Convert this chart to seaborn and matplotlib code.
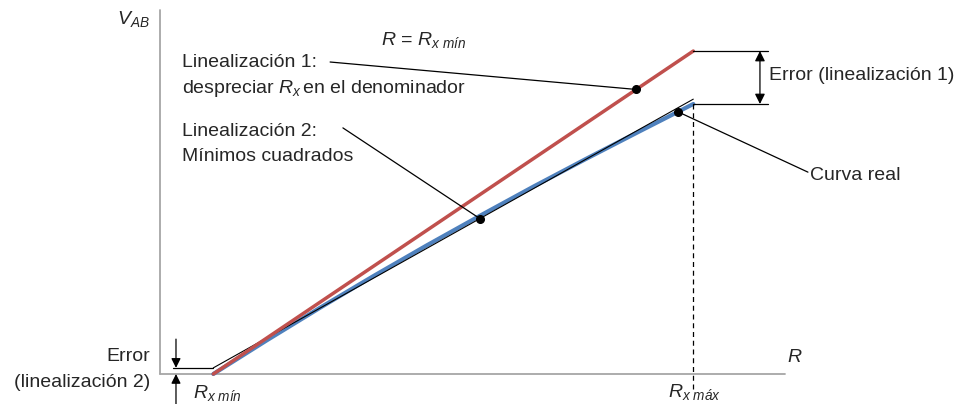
import matplotlib
matplotlib.use("Agg")
import matplotlib.pyplot as plt
import seaborn as sns
import pandas as pd

# axis extents (R in units where Rx_min=1, Rx_max=10; V where linearization 1 reaches 1 at Rx_max)
R_MIN = 1.0
R_MAX = 10.0
R_AXIS_END = 11.72
V_AXIS_TOP = 1.127

# series
r_curve = [1, 2, 3, 4, 5, 6, 7, 8, 9, 10]
v_curve = [0.0, 0.104, 0.205, 0.303, 0.398, 0.490, 0.580, 0.667, 0.752, 0.836]
r_lin1 = [R_MIN, R_MAX]
v_lin1 = [0.0, 1.0]
r_lin2 = [R_MIN, R_MAX]
v_lin2 = [0.019, 0.851]

# marked points
dot_lin1 = (8.93, 0.881)
dot_lin2 = (6.0, 0.481)
dot_curve = (9.71, 0.812)

sns.set_theme(style="white")
plt.rcParams["font.family"] = ["Liberation Sans", "DejaVu Sans"]
plt.rcParams["mathtext.fontset"] = "custom"
plt.rcParams["mathtext.rm"] = "Liberation Sans"
plt.rcParams["mathtext.it"] = "Liberation Sans:italic"
FS = 14

fig = plt.figure(figsize=(9.61, 4.04), dpi=100)
ax = fig.add_axes([0, 0, 1, 1])
ax.set_xlim(-3.0, 15.02)
ax.set_ylim(-0.0929, 1.158)
ax.axis("off")

gray = "#a6a6a6"
red = "#c0504d"
blue = "#4f81bd"

# axes
ax.plot([0, R_AXIS_END], [0, 0], color=gray, lw=1.3)
ax.plot([0, 0], [0, V_AXIS_TOP], color=gray, lw=1.3)

df_curve = pd.DataFrame({"R": r_curve, "V": v_curve})
sns.lineplot(data=df_curve, x="R", y="V", ax=ax, color=blue, lw=3.0, sort=True)
sns.lineplot(x=r_lin2, y=v_lin2, ax=ax, color="black", lw=0.8)
sns.lineplot(x=r_lin1, y=v_lin1, ax=ax, color=red, lw=2.5)

# dashed Rx_max marker
ax.plot([R_MAX, R_MAX], [v_curve[-1], -0.05], color="black", lw=0.9, ls=(0, (4, 3)))

# error 1 guides
ax.plot([R_MAX, 11.40], [v_lin1[-1], v_lin1[-1]], color="black", lw=0.9)
ax.plot([R_MAX, 11.40], [v_curve[-1], v_curve[-1]], color="black", lw=0.9)
ax.annotate("", xy=(11.25, v_lin1[-1]), xytext=(11.25, v_curve[-1]),
            arrowprops=dict(arrowstyle="<|-|>", color="black", lw=0.9,
                            mutation_scale=15, shrinkA=0, shrinkB=0))

# error 2 guides
ax.plot([0.24, R_MIN], [v_lin2[0], v_lin2[0]], color="black", lw=0.9)
ax.annotate("", xy=(0.30, v_lin2[0]), xytext=(0.30, 0.108),
            arrowprops=dict(arrowstyle="-|>", color="black", lw=0.9,
                            mutation_scale=14, shrinkA=0, shrinkB=0))
ax.annotate("", xy=(0.30, 0.0), xytext=(0.30, -0.093),
            arrowprops=dict(arrowstyle="-|>", color="black", lw=0.9,
                            mutation_scale=14, shrinkA=0, shrinkB=0))

# leaders and dots
ax.plot([3.19, dot_lin1[0]], [0.966, dot_lin1[1]], color="black", lw=0.9)
ax.plot([3.43, dot_lin2[0]], [0.762, dot_lin2[1]], color="black", lw=0.9)
ax.plot([dot_curve[0], 12.15], [dot_curve[1], 0.625], color="black", lw=0.9)
for d in (dot_lin1, dot_lin2, dot_curve):
    ax.plot(d[0], d[1], "o", color="black", ms=5.5, zorder=5)

# texts
ax.text(-0.81, 1.099, r"$V_{AB}$", fontsize=FS, va="center", ha="left")
ax.text(4.14, 1.034, r"$R$ = $R_{x\ \mathit{mín}}$", fontsize=FS, va="center", ha="left")
ax.text(0.41, 0.963, "Linealización 1:", fontsize=FS, va="center", ha="left")
ax.text(0.41, 0.885, r"despreciar $R_x\,$en el denominador", fontsize=FS, va="center", ha="left")
ax.text(0.41, 0.752, "Linealización 2:", fontsize=FS, va="center", ha="left")
ax.text(0.41, 0.672, "Mínimos cuadrados", fontsize=FS, va="center", ha="left")
ax.text(11.42, 0.923, "Error (linealización 1)", fontsize=FS, va="center", ha="left")
ax.text(12.19, 0.616, "Curva real", fontsize=FS, va="center", ha="left")
ax.text(-0.19, 0.053, "Error", fontsize=FS, va="center", ha="right")
ax.text(-0.19, -0.025, "(linealización 2)", fontsize=FS, va="center", ha="right")
ax.text(0.62, -0.059, r"$R_{x\ \mathit{mín}}$", fontsize=FS, va="center", ha="left")
ax.text(9.53, -0.056, r"$R_{x\ \mathit{máx}}$", fontsize=FS, va="center", ha="left")
ax.text(11.76, 0.05, r"$R$", fontsize=FS, va="center", ha="left")

fig.savefig("out.png", dpi=100)
